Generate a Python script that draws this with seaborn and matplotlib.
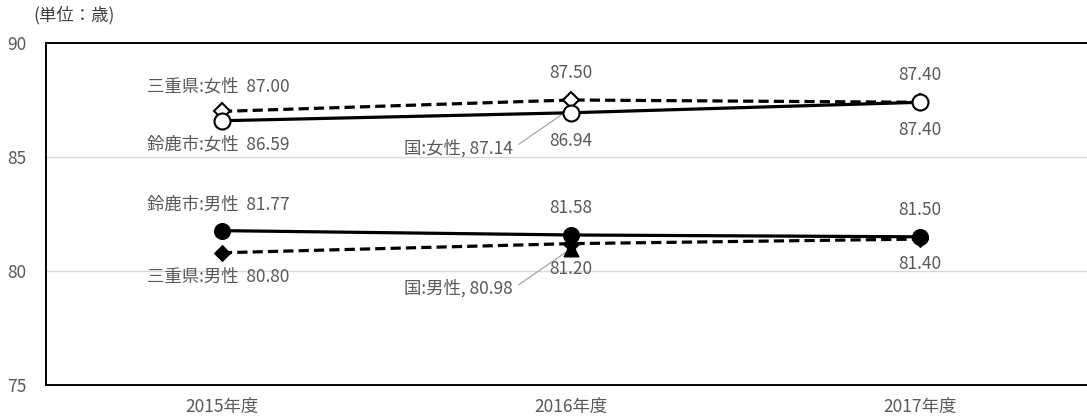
import matplotlib
matplotlib.use("Agg")
import matplotlib.pyplot as plt
import pandas as pd
import seaborn as sns

# Average life expectancy (years) by fiscal year
years = ["2015年度", "2016年度", "2017年度"]
suzuka_female = [86.59, 86.94, 87.40]
mie_female = [87.00, 87.50, 87.40]
suzuka_male = [81.77, 81.58, 81.50]
mie_male = [80.80, 81.20, 81.40]
national_year = "2016年度"
national_female = 87.14
national_male = 80.98
yticks = [75, 80, 85, 90]

sns.set_style("white")
plt.rcParams["font.family"] = ["Noto Sans CJK JP", "DejaVu Sans"]

TEXT = "#595959"
W, H = 1087, 416
fig = plt.figure(figsize=(W / 100, H / 100), dpi=100)
ax = fig.add_axes([46 / W, (H - 385) / H, (W - 46) / W, (385 - 43) / H])

df = pd.DataFrame({
    "year": years * 4,
    "value": suzuka_female + mie_female + suzuka_male + mie_male,
    "series": (["鈴鹿市:女性"] * 3 + ["三重県:女性"] * 3
               + ["鈴鹿市:男性"] * 3 + ["三重県:男性"] * 3),
})

# national values (single year)
nat = pd.DataFrame({"year": [national_year, national_year],
                    "value": [national_female, national_male],
                    "series": ["国:女性", "国:男性"]})

# gridlines
for v in [80, 85]:
    ax.axhline(v, color="#d9d9d9", lw=1.0, zorder=0)

lw = 2.3
dash = (0, (3.2, 1.6))

# Mie prefecture: dashed with diamonds
sns.lineplot(data=df[df.series == "三重県:女性"], x="year", y="value", ax=ax,
             color="black", lw=lw, linestyle=dash, marker="D", markersize=8,
             markerfacecolor="white", markeredgecolor="black",
             markeredgewidth=1.5, zorder=3, legend=False)
sns.lineplot(data=df[df.series == "三重県:男性"], x="year", y="value", ax=ax,
             color="black", lw=lw, linestyle=dash, marker="D", markersize=8,
             markerfacecolor="black", markeredgecolor="black",
             zorder=3, legend=False)

# Suzuka city: solid with circles
sns.lineplot(data=df[df.series == "鈴鹿市:女性"], x="year", y="value", ax=ax,
             color="black", lw=lw, marker="o", markersize=11.5,
             markerfacecolor="white", markeredgecolor="black",
             markeredgewidth=1.5, zorder=4, legend=False)
sns.lineplot(data=df[df.series == "鈴鹿市:男性"], x="year", y="value", ax=ax,
             color="black", lw=lw, marker="o", markersize=11.5,
             markerfacecolor="black", markeredgecolor="black",
             zorder=4, legend=False)

# national markers (underneath the lines)
sns.scatterplot(data=nat[nat.series == "国:女性"], x="year", y="value", ax=ax,
                marker="^", s=110, color="white", edgecolor="black",
                linewidth=1.3, zorder=2, legend=False)
sns.scatterplot(data=nat[nat.series == "国:男性"], x="year", y="value", ax=ax,
                marker="^", s=110, color="black", edgecolor="black",
                linewidth=1.0, zorder=2, legend=False)

ax.set_xlim(-0.504, 2.478)
ax.set_ylim(75, 90)
ax.set_yticks(yticks)
ax.set_xlabel("")
ax.set_ylabel("")

FS = 12.5


def label(x, y, text, dy, dx=0, ha="center"):
    ax.annotate(text, (x, y), xytext=(dx, dy), textcoords="offset pixels",
                ha=ha, va="center", fontsize=FS, color=TEXT, zorder=6)


# first-year labels carry the series name
label(0, mie_female[0], "三重県:女性  %.2f" % mie_female[0], 25, dx=-75, ha="left")
label(0, suzuka_female[0], "鈴鹿市:女性  %.2f" % suzuka_female[0], -24, dx=-75, ha="left")
label(0, suzuka_male[0], "鈴鹿市:男性  %.2f" % suzuka_male[0], 26, dx=-75, ha="left")
label(0, mie_male[0], "三重県:男性  %.2f" % mie_male[0], -24, dx=-75, ha="left")

for i in (1, 2):
    label(i, mie_female[i], "%.2f" % mie_female[i], 27)
    label(i, suzuka_female[i], "%.2f" % suzuka_female[i], -28)
    label(i, suzuka_male[i], "%.2f" % suzuka_male[i], 27)
    label(i, mie_male[i], "%.2f" % mie_male[i], -25)

# national values with leader lines
for val, name, dy in [(national_female, "国:女性", -40), (national_male, "国:男性", -40)]:
    ax.annotate("%s, %.2f" % (name, val), (1, val), xytext=(-58, dy),
                textcoords="offset pixels", ha="right", va="center",
                fontsize=FS, color=TEXT, zorder=1,
                arrowprops=dict(arrowstyle="-", color="#a6a6a6", lw=0.9,
                                shrinkA=2, shrinkB=0,
                                relpos=(1.0, 0.5)))

ax.tick_params(axis="both", length=0, labelsize=FS, labelcolor=TEXT)
ax.tick_params(axis="y", pad=14)
ax.tick_params(axis="x", pad=9)

for side in ("left", "top", "bottom"):
    ax.spines[side].set_color("black")
    ax.spines[side].set_linewidth(1.4)
ax.spines["right"].set_visible(False)

fig.text(33 / W, 1 - 15 / H, "(単位：歳)", ha="left", va="center",
         fontsize=12.5, color="#404040")

fig.savefig("out.png", dpi=100)
